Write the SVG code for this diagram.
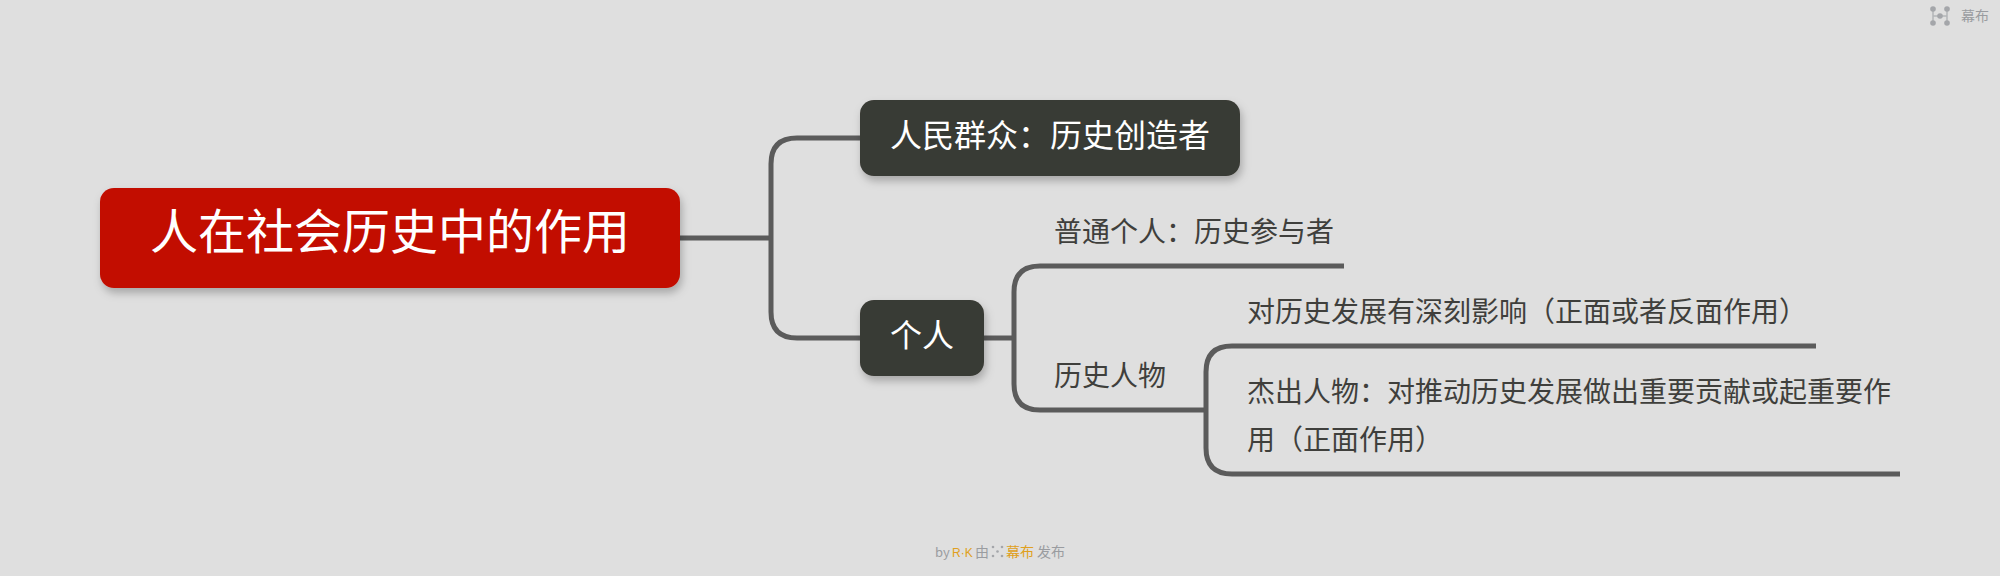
<svg xmlns="http://www.w3.org/2000/svg" width="2000" height="576" viewBox="0 0 2000 576">
<style>
text{font-family:"Noto Sans CJK SC","Noto Sans",sans-serif}
.l{fill:none;stroke:#5b5b5b;stroke-width:5}
.t{fill:#3f3f3c;font-size:28px}
.w{fill:#fff}
.g{fill:#9a9ca0;font-size:14px}
.o{fill:#e0a020;font-size:14px}
.d{fill:#a4a6aa}
</style>
<defs>
<filter id="s" x="-10%" y="-20%" width="120%" height="150%"><feDropShadow dx="2" dy="5" stdDeviation="4" flood-color="#000" flood-opacity=".25"/></filter>
</defs>
<rect width="2000" height="576" fill="#dfdfdf"/>
<g id="connectors">
<path class="l" d="M680 238H769"/>
<path class="l" d="M860 138H797Q771 138 771 164V312Q771 338 797 338H860"/>
<path class="l" d="M984 338H1014"/>
<path class="l" d="M1344 266H1040Q1014 266 1014 292V384Q1014 410 1040 410H1206"/>
<path class="l" d="M1816 346H1232Q1206 346 1206 372V448Q1206 474 1232 474H1900"/>
</g>
<g id="root"><rect x="100" y="188" width="580" height="100" rx="14" fill="#c21104" filter="url(#s)"/><text class="w" x="150" y="249" font-size="48">人在社会历史中的作用</text></g>
<g id="n1"><rect x="860" y="100" width="380" height="76" rx="14" fill="#393a34" filter="url(#s)"/><text class="w" x="890" y="147" font-size="32">人民群众&#xFF1A;历史创造者</text></g>
<g id="n2"><rect x="860" y="300" width="124" height="76" rx="14" fill="#393a34" filter="url(#s)"/><text class="w" x="890" y="347" font-size="32">个人</text></g>
<g id="n3"><text class="t" x="1054" y="242">普通个人&#xFF1A;历史参与者</text></g>
<g id="n4"><text class="t" x="1054" y="386">历史人物</text></g>
<g id="n5"><text class="t" x="1247" y="322">对历史发展有深刻影响&#xFF08;正面或者反面作用&#xFF09;</text></g>
<g id="n6"><text class="t" x="1247" y="402">杰出人物&#xFF1A;对推动历史发展做出重要贡献或起重要作</text><text class="t" x="1247" y="450">用&#xFF08;正面作用&#xFF09;</text></g>
<g id="logo-top"><path d="M1933 9V23M1947 9V23M1933 16H1947" stroke="#b4b6b9" stroke-width="1.500" fill="none"/><circle class="d" cx="1933" cy="9" r="2.800"/><circle class="d" cx="1947" cy="9" r="2.800"/><circle class="d" cx="1933" cy="23" r="2.800"/><circle class="d" cx="1947" cy="23" r="2.800"/><circle class="d" cx="1940" cy="16" r="2.800"/><text class="g" x="1961" y="21">幕布</text></g>
<g id="footer"><text class="g" x="935" y="557" style="font-size:13px">by</text><text class="o" x="952" y="557" style="font-size:12px;font-family:'Liberation Sans',sans-serif">R·K</text><text class="g" x="975" y="557">由</text><circle class="d" cx="993" cy="547" r="1.300"/><circle class="d" cx="1002" cy="547" r="1.300"/><circle class="d" cx="993" cy="556" r="1.300"/><circle class="d" cx="1002" cy="556" r="1.300"/><circle class="d" cx="997.500" cy="551.500" r="1.300"/><text class="o" x="1006" y="557">幕布</text><text class="g" x="1037" y="557">发布</text></g>
</svg>
